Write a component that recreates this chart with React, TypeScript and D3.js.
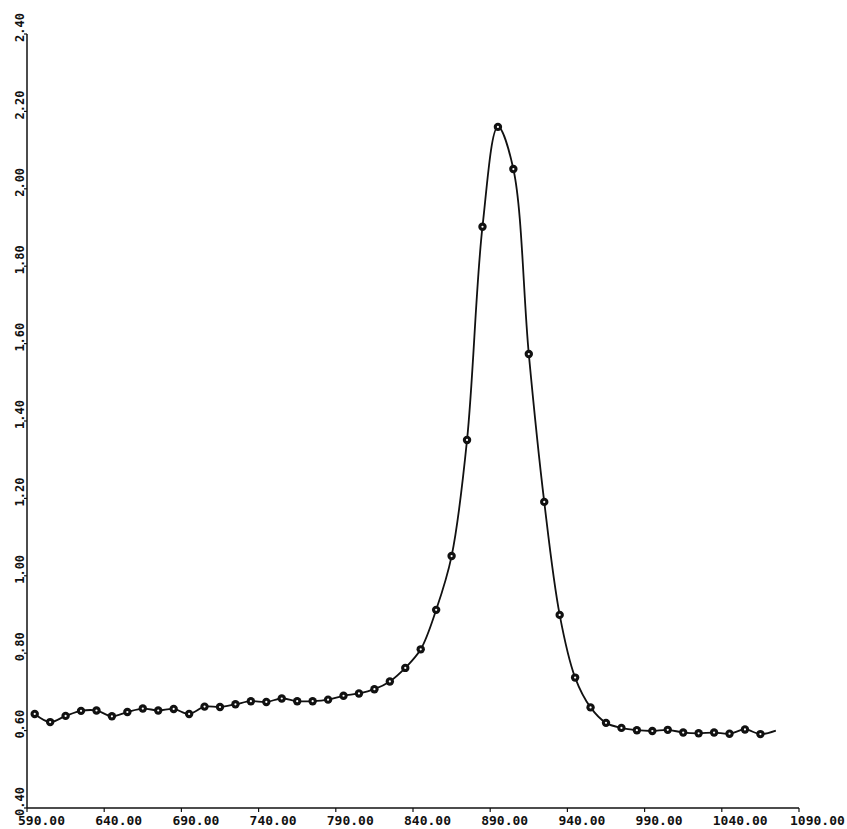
import * as d3 from "d3";
import { useEffect } from "react";

// wavelength (nm) of each measured point
const wavelengths = [
  595, 605, 615, 625, 635, 645, 655, 665, 675, 685, 695, 705, 715, 725, 735, 745,
  755, 765, 775, 785, 795, 805, 815, 825, 835, 845, 855, 865, 875, 885, 895, 905,
  915, 925, 935, 945, 955, 965, 975, 985, 995, 1005, 1015, 1025, 1035, 1045, 1055, 1065,
];

// absorbance
const absorbance = [
  0.643, 0.622, 0.638, 0.651, 0.652, 0.637, 0.648, 0.657, 0.652, 0.656, 0.643, 0.662,
  0.661, 0.668, 0.676, 0.674, 0.683, 0.676, 0.676, 0.68, 0.69, 0.696, 0.707, 0.727,
  0.762, 0.81, 0.912, 1.051, 1.351, 1.902, 2.16, 2.051, 1.573, 1.191, 0.899, 0.737,
  0.66, 0.62, 0.607, 0.601, 0.599, 0.602, 0.595, 0.593, 0.595, 0.592, 0.603, 0.591,
];

// the fitted line runs a little past the last marker
const tailWavelength = [1075];
const tailAbsorbance = [0.6];

const xTicks = [590, 640, 690, 740, 790, 840, 890, 940, 990, 1040, 1090];
const yTicks = [0.4, 0.6, 0.8, 1.0, 1.2, 1.4, 1.6, 1.8, 2.0, 2.2, 2.4];

export default function App() {
  useEffect(() => {
    document.body.style.margin = "0";
    const width = 847,
      height = 829;

    d3.select("#chart").selectAll("*").remove();
    const svg = d3
      .select("#chart")
      .append("svg")
      .attr("width", width)
      .attr("height", height)
      .style("display", "block")
      .style("background", "#fff");

    const x = d3.scaleLinear().domain([590, 1090]).range([27, 799]);
    const y = d3.scaleLinear().domain([0.4, 2.4]).range([808, 34]);

    const font = "'DejaVu Sans Mono', 'Liberation Mono', monospace";

    // axes drawn by hand, plotter style
    svg
      .append("line")
      .attr("x1", x(590))
      .attr("x2", x(1090))
      .attr("y1", y(0.4))
      .attr("y2", y(0.4))
      .attr("stroke", "#111")
      .attr("stroke-width", 1.5);
    svg
      .append("line")
      .attr("x1", x(590))
      .attr("x2", x(590))
      .attr("y1", y(0.4))
      .attr("y2", y(2.4))
      .attr("stroke", "#111")
      .attr("stroke-width", 1.5);

    svg
      .selectAll("line.xtick")
      .data(xTicks)
      .enter()
      .append("line")
      .attr("class", "xtick")
      .attr("x1", (d) => x(d))
      .attr("x2", (d) => x(d))
      .attr("y1", y(0.4))
      .attr("y2", y(0.4) + 4)
      .attr("stroke", "#111")
      .attr("stroke-width", 1.2);

    svg
      .selectAll("text.xlabel")
      .data(xTicks)
      .enter()
      .append("text")
      .attr("class", "xlabel")
      .attr("x", (d) => x(d) - 9)
      .attr("y", 825)
      .attr("font-family", font)
      .attr("font-weight", "bold")
      .attr("font-size", 13)
      .attr("fill", "#111")
      .text((d) => d.toFixed(2));

    svg
      .selectAll("line.ytick")
      .data(yTicks)
      .enter()
      .append("line")
      .attr("class", "ytick")
      .attr("x1", x(590) - 3)
      .attr("x2", x(590))
      .attr("y1", (d) => y(d))
      .attr("y2", (d) => y(d))
      .attr("stroke", "#111")
      .attr("stroke-width", 1.2);

    svg
      .selectAll("text.ylabel")
      .data(yTicks)
      .enter()
      .append("text")
      .attr("class", "ylabel")
      .attr("transform", (d) => `translate(24,${y(d) + 8})rotate(-90)`)
      .attr("font-family", font)
      .attr("font-weight", "bold")
      .attr("font-size", 12)
      .attr("fill", "#111")
      .text((d) => d.toFixed(2));

    const pts = wavelengths.map((w, i) => [w, absorbance[i]]);
    const linePts = pts.concat(tailWavelength.map((w, i) => [w, tailAbsorbance[i]]));

    const line = d3
      .line()
      .x((d) => x(d[0]))
      .y((d) => y(d[1]))
      .curve(d3.curveCatmullRom.alpha(0.5));

    svg
      .append("path")
      .datum(linePts)
      .attr("d", line)
      .attr("fill", "none")
      .attr("stroke", "#111")
      .attr("stroke-width", 1.8);

    svg
      .selectAll("circle.pt")
      .data(pts)
      .enter()
      .append("circle")
      .attr("class", "pt")
      .attr("cx", (d) => x(d[0]))
      .attr("cy", (d) => y(d[1]))
      .attr("r", 4.2)
      .attr("fill", "#111");

    svg
      .selectAll("circle.dot")
      .data(pts)
      .enter()
      .append("circle")
      .attr("class", "dot")
      .attr("cx", (d) => x(d[0]))
      .attr("cy", (d) => y(d[1]))
      .attr("r", 1.1)
      .attr("fill", "#fff");
  }, []);

  return <div id="chart"></div>;
}
